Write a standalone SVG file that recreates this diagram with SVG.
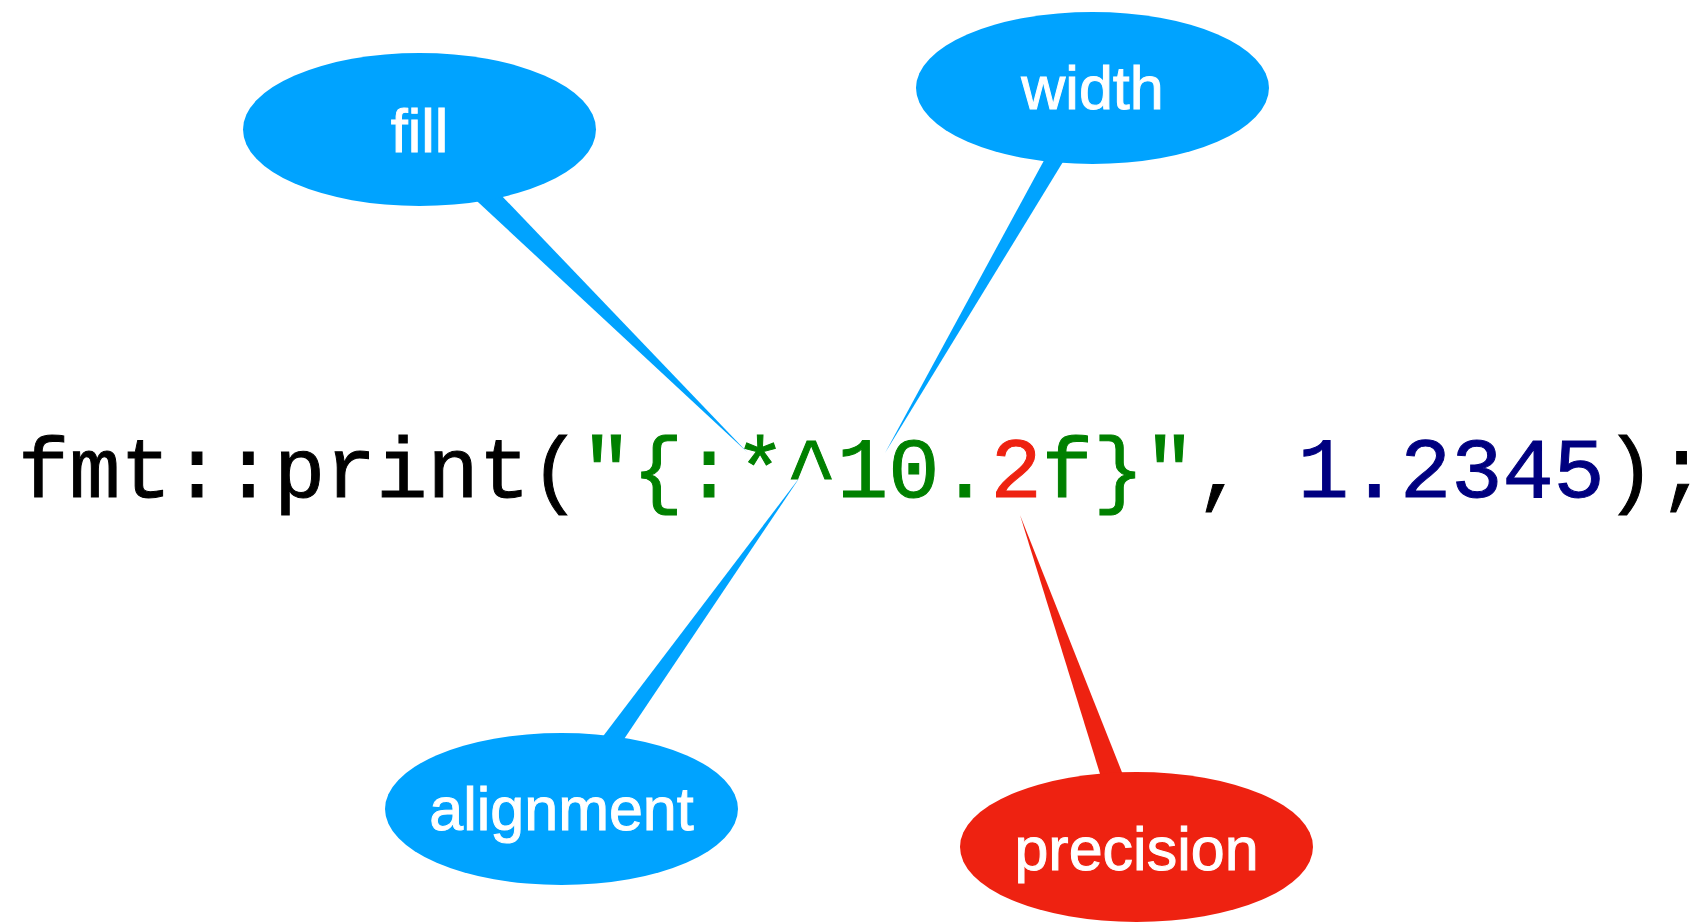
<svg xmlns="http://www.w3.org/2000/svg" width="1706" height="922" viewBox="0 0 1706 922">
  <style>
    .blue { fill: #00A3FF; }
    .red { fill: #EE2211; }
    .label { font-family: "Liberation Sans", Arial, sans-serif; font-size: 61px; fill: #FFFFFF; stroke: #FFFFFF; stroke-width: 1px; text-anchor: middle; }
    .code { font-family: "Liberation Mono", "Courier New", monospace; font-size: 85.3px; stroke-width: 1px; }
    .k { fill: #000000; stroke: #000000; }
    .s { fill: #008000; stroke: #008000; }
    .p { fill: #EE2211; stroke: #EE2211; }
    .n { fill: #000080; stroke: #000080; }
  </style>

  <rect x="0" y="0" width="1706" height="922" fill="#FFFFFF"/>

  <!-- callout pointers -->
  <g id="connectors">
    <polygon class="blue" points="451,177 479,172 747,452"/>
    <polygon class="blue" points="1054,142 1080,134 885,453"/>
    <polygon class="blue" points="585,760 610,760 800,477"/>
    <polygon class="red" points="1105,790 1129,790 1020,515"/>
  </g>

  <!-- code line -->
  <g id="code">
    <text class="code" x="18" y="497" xml:space="preserve"><tspan class="k">fmt::print(</tspan><tspan class="s">"{:*^10.</tspan><tspan class="p">2</tspan><tspan class="s">f}"</tspan><tspan class="k">, </tspan><tspan class="n">1.2345</tspan><tspan class="k">);</tspan></text>
  </g>

  <g id="fill">
    <ellipse class="blue" cx="419.5" cy="129.5" rx="176.5" ry="76.5"/>
    <text class="label" x="419.5" y="152">fill</text>
  </g>

  <g id="width">
    <ellipse class="blue" cx="1092.5" cy="88" rx="176.5" ry="76"/>
    <text class="label" x="1092.5" y="109">width</text>
  </g>

  <g id="alignment">
    <ellipse class="blue" cx="561.5" cy="809" rx="176.5" ry="76"/>
    <text class="label" x="561.5" y="830">alignment</text>
  </g>

  <g id="precision">
    <ellipse class="red" cx="1136.5" cy="847" rx="176.5" ry="75"/>
    <text class="label" x="1136.5" y="870">precision</text>
  </g>
</svg>
